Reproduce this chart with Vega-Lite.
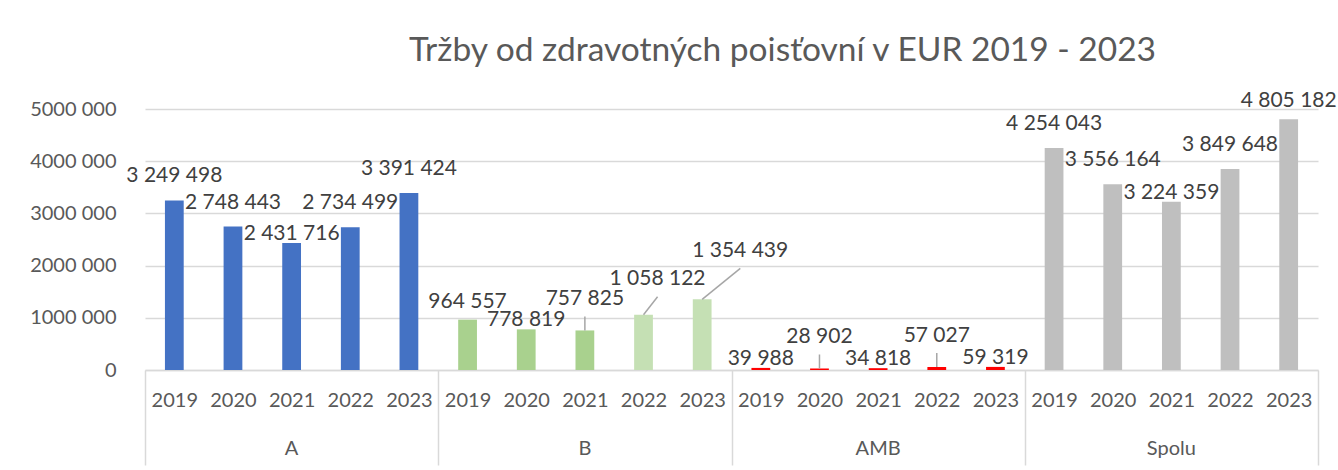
{
  "$schema": "https://vega.github.io/schema/vega-lite/v6.json",
  "width": 1173,
  "height": 261,
  "autosize": {"type": "none"},
  "padding": {"left": 145, "top": 109, "right": 20, "bottom": 100},
  "background": "white",
  "config": {
    "view": {"stroke": null},
    "font": "Lato",
    "locale": {"number": {"decimal": ",", "thousands": " ", "grouping": [3], "currency": ["", " €"]}}
  },
  "title": {
    "text": "Tržby od zdravotných poisťovní v EUR 2019 - 2023",
    "fontSize": 33.5,
    "font": "Lato",
    "fontWeight": "normal",
    "color": "#595959",
    "anchor": "middle",
    "dx": 51,
    "offset": 22
  },
  "data": {
    "values": [
      {"g": "A", "yr": "2019", "k": "A 2019", "v": 3249498},
      {"g": "A", "yr": "2020", "k": "A 2020", "v": 2748443},
      {"g": "A", "yr": "2021", "k": "A 2021", "v": 2431716},
      {"g": "A", "yr": "2022", "k": "A 2022", "v": 2734499},
      {"g": "A", "yr": "2023", "k": "A 2023", "v": 3391424},
      {"g": "B", "yr": "2019", "k": "B 2019", "v": 964557},
      {"g": "B", "yr": "2020", "k": "B 2020", "v": 778819},
      {"g": "B", "yr": "2021", "k": "B 2021", "v": 757825},
      {"g": "B", "yr": "2022", "k": "B 2022", "v": 1058122},
      {"g": "B", "yr": "2023", "k": "B 2023", "v": 1354439},
      {"g": "AMB", "yr": "2019", "k": "AMB 2019", "v": 39988},
      {"g": "AMB", "yr": "2020", "k": "AMB 2020", "v": 28902},
      {"g": "AMB", "yr": "2021", "k": "AMB 2021", "v": 34818},
      {"g": "AMB", "yr": "2022", "k": "AMB 2022", "v": 57027},
      {"g": "AMB", "yr": "2023", "k": "AMB 2023", "v": 59319},
      {"g": "Spolu", "yr": "2019", "k": "Spolu 2019", "v": 4254043},
      {"g": "Spolu", "yr": "2020", "k": "Spolu 2020", "v": 3556164},
      {"g": "Spolu", "yr": "2021", "k": "Spolu 2021", "v": 3224359},
      {"g": "Spolu", "yr": "2022", "k": "Spolu 2022", "v": 3849648},
      {"g": "Spolu", "yr": "2023", "k": "Spolu 2023", "v": 4805182}
    ]
  },
  "encoding": {
    "x": {
      "field": "k",
      "type": "nominal",
      "sort": null,
      "scale": {"paddingInner": 0, "paddingOuter": 0},
      "axis": {
        "title": null,
        "labelExpr": "slice(datum.label, -4)",
        "labelAngle": 0,
        "labelFont": "Lato",
        "labelFontSize": 20,
        "labelColor": "#595959",
        "labelPadding": -75,
        "tickBand": "extent",
        "tickSize": 95,
        "tickColor": "#D9D9D9",
        "tickWidth": 1.5,
        "tickOpacity": {"condition": {"test": "datum.index < 0 || slice(datum.value, -4) == '2023'", "value": 1}, "value": 0},
        "domainColor": "#D9D9D9",
        "domainWidth": 1.5,
        "grid": false
      }
    },
    "y": {
      "field": "v",
      "type": "quantitative",
      "scale": {"domain": [0, 5000000], "nice": false},
      "axis": {
        "title": null,
        "values": [0, 1000000, 2000000, 3000000, 4000000, 5000000],
        "labelExpr": "datum.value == 0 ? '0' : format(datum.value / 1000, 'd') + ' 000'",
        "domain": false,
        "ticks": false,
        "gridColor": "#D9D9D9",
        "gridWidth": 1.5,
        "labelPadding": 29,
        "labelFont": "Lato",
        "labelFontSize": 20,
        "labelColor": "#595959"
      }
    }
  },
  "layer": [
    {
      "mark": {"type": "bar", "width": {"band": 0.32}},
      "encoding": {
        "color": {
          "condition": {"test": "datum.g == 'B' && datum.yr >= '2022'", "value": "#C5E0B4"},
          "field": "g",
          "type": "nominal",
          "scale": {"domain": ["A", "B", "AMB", "Spolu"], "range": ["#4472C4", "#A9D18E", "#FF0000", "#BFBFBF"]},
          "legend": null
        }
      }
    },
    {
      "transform": [{"filter": {"field": "k", "oneOf": ["A 2019", "A 2020", "A 2022", "A 2023", "Spolu 2019", "Spolu 2020", "Spolu 2022"]}}],
      "mark": {"type": "text", "dy": -18, "baseline": "alphabetic", "fontSize": 21, "color": "#404040", "font": "Lato"},
      "encoding": {"text": {"field": "v", "type": "quantitative", "format": ",d"}}
    },
    {
      "transform": [{"filter": {"field": "k", "oneOf": ["B 2019", "Spolu 2023"]}}],
      "mark": {"type": "text", "dy": -12, "baseline": "alphabetic", "fontSize": 21, "color": "#404040", "font": "Lato"},
      "encoding": {"text": {"field": "v", "type": "quantitative", "format": ",d"}}
    },
    {
      "transform": [{"filter": {"field": "k", "oneOf": ["A 2021", "Spolu 2021", "B 2020", "AMB 2019", "AMB 2021", "AMB 2023"]}}],
      "mark": {"type": "text", "dy": -3, "baseline": "alphabetic", "fontSize": 21, "color": "#404040", "font": "Lato"},
      "encoding": {"text": {"field": "v", "type": "quantitative", "format": ",d"}}
    },
    {
      "transform": [{"filter": {"field": "k", "oneOf": ["B 2021", "AMB 2020", "AMB 2022"]}}],
      "mark": {"type": "text", "dy": -25, "baseline": "alphabetic", "fontSize": 21, "color": "#404040", "font": "Lato"},
      "encoding": {"text": {"field": "v", "type": "quantitative", "format": ",d"}}
    },
    {
      "transform": [{"filter": {"field": "k", "equal": "B 2022"}}],
      "mark": {"type": "text", "dx": 14, "dy": -30, "baseline": "alphabetic", "fontSize": 21, "color": "#404040", "font": "Lato"},
      "encoding": {"text": {"field": "v", "type": "quantitative", "format": ",d"}}
    },
    {
      "transform": [{"filter": {"field": "k", "equal": "B 2023"}}],
      "mark": {"type": "text", "dx": 38, "dy": -42, "baseline": "alphabetic", "fontSize": 21, "color": "#404040", "font": "Lato"},
      "encoding": {"text": {"field": "v", "type": "quantitative", "format": ",d"}}
    },
    {
      "transform": [{"filter": {"field": "k", "oneOf": ["B 2021", "AMB 2020", "AMB 2022"]}}],
      "mark": {"type": "point", "shape": "M0,0V-1", "size": 784, "filled": false, "stroke": "#A6A6A6", "strokeWidth": 1.5, "opacity": 1}
    },
    {
      "transform": [{"filter": {"field": "k", "equal": "B 2022"}}],
      "mark": {"type": "point", "shape": "M0,0L0.78,-1", "size": 1296, "filled": false, "stroke": "#A6A6A6", "strokeWidth": 1.5, "opacity": 1}
    },
    {
      "transform": [{"filter": {"field": "k", "equal": "B 2023"}}],
      "mark": {"type": "point", "shape": "M0,0L1.23,-1", "size": 3844, "filled": false, "stroke": "#A6A6A6", "strokeWidth": 1.5, "opacity": 1}
    },
    {
      "transform": [{"filter": "datum.yr == '2021'"}],
      "mark": {"type": "text", "dy": 85, "baseline": "alphabetic", "fontSize": 20, "color": "#595959", "font": "Lato"},
      "encoding": {"y": {"datum": 0}, "text": {"field": "g"}}
    }
  ]
}
